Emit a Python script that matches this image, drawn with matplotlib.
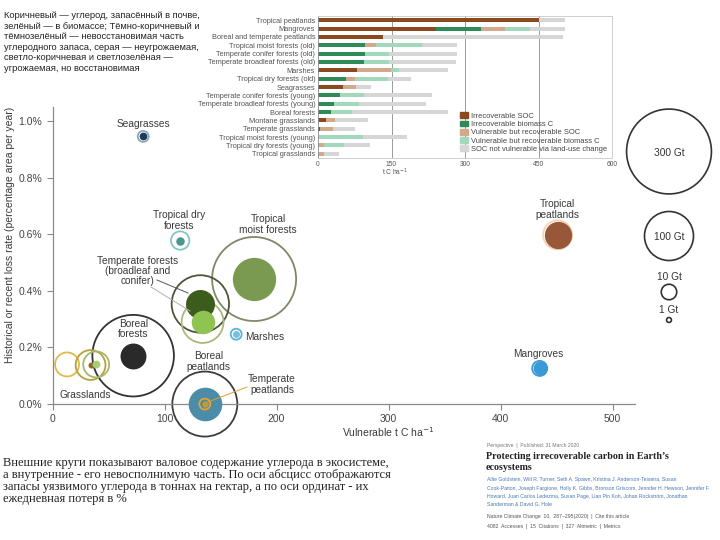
import matplotlib
matplotlib.use('Agg')
import matplotlib.pyplot as plt
import numpy as np
from matplotlib.patches import Circle, Patch

plt.rcParams['font.family'] = ['Liberation Sans', 'DejaVu Sans']

# ---------------- data: main bubble chart ----------------
eco_names = ['Seagrasses', 'Tropical dry forests', 'Tropical moist forests',
             'Temperate conifer forests', 'Temperate broadleaf forests',
             'Boreal forests', 'Tropical grasslands', 'Temperate grasslands',
             'Montane grasslands', 'Marshes', 'Boreal peatlands',
             'Temperate peatlands', 'Tropical peatlands', 'Mangroves']
eco_vuln = [81, 114, 180, 132, 134, 72, 13, 34, 39, 164, 136, 136, 451, 435]
eco_loss = [0.946, 0.578, 0.442, 0.354, 0.290, 0.171, 0.140, 0.138, 0.140,
            0.247, 0.0, 0.0, 0.598, 0.126]
eco_total_gt = [5, 14, 294, 137, 73, 277, 24, 37, 28, 5, 176, 5, 35, 9.4]
eco_irrec_gt = [2.5, 3, 78, 35, 23, 28, 0, 1.5, 2.5, 2, 47, 1.5, 31, 8]

# ---------------- data: inset stacked bars ----------------
inset_cats = ['Tropical peatlands', 'Mangroves', 'Boreal and temperate peatlands',
              'Tropical moist forests (old)', 'Temperate conifer forests (old)',
              'Temperate broadleaf forests (old)', 'Marshes',
              'Tropical dry forests (old)', 'Seagrasses',
              'Temperate conifer forests (young)', 'Temperate broadleaf forests (young)',
              'Boreal forests', 'Montane grasslands', 'Temperate grasslands',
              'Tropical moist forests (young)', 'Tropical dry forests (young)',
              'Tropical grasslands']
irrec_soc = [450, 241, 133, 0, 0, 0, 80, 0, 50, 0, 0, 0, 16, 5, 0, 0, 0]
irrec_bio = [0, 92, 0, 95, 95, 93, 0, 58, 0, 44, 33, 27, 0, 0, 0, 0, 0]
vuln_soc = [0, 49, 0, 23, 0, 0, 68, 17, 28, 0, 0, 0, 19, 26, 0, 12, 12]
vuln_bio = [0, 51, 0, 95, 50, 52, 18, 67, 0, 50, 51, 43, 0, 0, 92, 41, 0]
not_vuln = [54, 71, 367, 70, 138, 136, 99, 48, 31, 138, 136, 195, 67, 45, 90, 54, 30]
inset_series = ['Irrecoverable SOC', 'Irrecoverable biomass C',
                'Vulnerable but recoverable SOC', 'Vulnerable but recoverable biomass C',
                'SOC not vulnerable via land-use change']
inset_ticks = [0, 150, 300, 450, 600]

main_xticks = [0, 100, 200, 300, 400, 500]
main_yticks = [0.0, 0.2, 0.4, 0.6, 0.8, 1.0]

legend_gt = [300, 100, 10, 1]
legend_labels = ['300 Gt', '100 Gt', '10 Gt', '1 Gt']

top_text = ['Коричневый — углерод, запасённый в почве,',
            'зелёный — в биомассе; Тёмно-коричневый и',
            'тёмнозелёный — невосстановимая часть',
            'углеродного запаса, серая — неугрожаемая,',
            'светло-коричневая и светлозелёная —',
            'угрожаемая, но восстановимая']
bottom_text = ['Внешние круги показывают валовое содержание углерода в экосистеме,',
               'а внутренние - его невосполнимую часть. По оси абсцисс отображаются',
               'запасы уязвимого углерода в тоннах на гектар, а по оси ординат - их',
               'ежедневная потеря в %']
article_meta = 'Perspective  |  Published: 31 March 2020'
article_title = ['Protecting irrecoverable carbon in Earth\u2019s', 'ecosystems']
article_authors = ['Allie Goldstein, Will R. Turner, Seth A. Spawn, Kristina J. Anderson-Teixeira, Susan',
                   'Cook-Patton, Joseph Fargione, Holly K. Gibbs, Bronson Griscom, Jennifer H. Hewson, Jennifer F.',
                   'Howard, Juan Carlos Ledezma, Susan Page, Lian Pin Koh, Johan Rockström, Jonathan',
                   'Sanderman & David G. Hole']
article_journal = 'Nature Climate Change  10,  287\u2013295(2020)  |  Cite this article'
article_metrics = '4082  Accesses  |  15  Citations  |  327  Altmetric  |  Metrics'

# ---------------- styles ----------------
W, H, DPI = 720, 540, 100
PX_PER_SQRT_GT = 2.45
eco_edge = ['#8aa6bf', '#86c4c4', '#7f8866', '#4f5538', '#a9b97c', '#333333',
            '#e2b94c', '#b4a23e', '#a6b86a', '#5ab3da', '#3d3d3d', '#e6a232',
            '#eed5b8', '#3a9ad6']
eco_fill = ['#1e3a56', '#4d968e', '#7a9a52', '#3b5c1c', '#8fc352', '#2a2a2a',
            'none', '#8a6a30', '#a6cf74', '#78bede', '#4b8ca8', '#c59a34',
            '#99573a', '#3a9ad6']
seg_colors = ['#8b4a1e', '#2e8b57', '#d3a98c', '#a2d9bd', '#d6d6d6']


def px_rect(l, t, r, b):
    return [l / W, 1 - b / H, (r - l) / W, (b - t) / H]


def msize(gt):
    r = PX_PER_SQRT_GT * np.sqrt(gt)
    return (2 * r * 72 / DPI) ** 2


fig = plt.figure(figsize=(W / DPI, H / DPI), dpi=DPI)

# ---------------- main axes ----------------
ax = fig.add_axes(px_rect(52.5, 107, 52.5 + 1.12 * 520, 438))
ax.set_xlim(0, 520)
ax.set_ylim(-0.12, 1.05)
for s in ['top', 'right']:
    ax.spines[s].set_visible(False)
ax.spines['bottom'].set_position(('data', 0))
ax.spines['left'].set_bounds(0, 1.05)
for s in ['bottom', 'left']:
    ax.spines[s].set_color('#8a8a8a')
    ax.spines[s].set_linewidth(0.9)
ax.set_xticks(main_xticks)
ax.set_xticklabels([str(v) for v in main_xticks])
ax.set_yticks(main_yticks)
ax.set_yticklabels(['%.1f%%' % v for v in main_yticks])
ax.tick_params(labelsize=7.5, labelcolor='#444444', color='#8a8a8a', length=4, width=0.8)
ax.set_facecolor('none')

# outer circles (total carbon)
for i in range(len(eco_names)):
    ax.scatter(eco_vuln[i], eco_loss[i], s=msize(eco_total_gt[i]), facecolors='none',
               edgecolors=eco_edge[i], linewidths=1.3, zorder=2, clip_on=False)
# inner circles (irrecoverable carbon)
for i in range(len(eco_names)):
    if eco_irrec_gt[i] > 0 and eco_fill[i] != 'none':
        ax.scatter(eco_vuln[i], eco_loss[i], s=msize(eco_irrec_gt[i]), color=eco_fill[i],
                   linewidths=0, zorder=3 + i * 0.01, clip_on=False)
# temperate peatlands ring on top of boreal peatlands
ax.scatter(eco_vuln[11], eco_loss[11], s=msize(eco_total_gt[11]), facecolors='none',
           edgecolors=eco_edge[11], linewidths=1.3, zorder=4, clip_on=False)
ax.scatter(eco_vuln[11], eco_loss[11], s=msize(eco_irrec_gt[11]), color=eco_fill[11],
           linewidths=0, zorder=4.1, clip_on=False)

# ---------------- overlay (pixel coordinates) ----------------
ov = fig.add_axes([0, 0, 1, 1])
ov.set_xlim(0, W)
ov.set_ylim(H, 0)
ov.axis('off')

lab = dict(fontsize=7.3, color='#3a3a3a', ha='center', va='center', linespacing=1.05)
ov.text(143.3, 124, 'Seagrasses', **lab)
ov.text(179, 220.5, 'Tropical dry\nforests', **lab)
ov.text(268.3, 224.5, 'Tropical\nmoist forests', **lab)
ov.text(137.5, 271, 'Temperate forests\n(broadleaf and\nconifer)', **lab)
ov.text(133.3, 329, 'Boreal\nforests', **lab)
ov.text(85, 395, 'Grasslands', **lab)
ov.text(245, 337, 'Marshes', fontsize=7.3, color='#3a3a3a', ha='left', va='center')
ov.text(208.3, 361.5, 'Boreal\npeatlands', **lab)
ov.text(272, 384.5, 'Temperate\npeatlands', **lab)
ov.text(557.3, 209.5, 'Tropical\npeatlands', **lab)
ov.text(538.3, 354, 'Mangroves', **lab)
ov.plot([157, 188], [280, 293], color='#555555', lw=0.7)
ov.plot([151, 190], [287, 311], color='#b0b0b0', lw=0.7)
ov.plot([247, 208], [387, 402], color='#e0a030', lw=0.7)

ov.text(10, 235, 'Historical or recent loss rate (percentage area per year)',
        rotation=90, fontsize=7.5, color='#3a3a3a', ha='center', va='center')
ov.text(388, 432, 'Vulnerable t C ha$^{-1}$', fontsize=7.5, color='#3a3a3a',
        ha='center', va='center')

# bubble size legend
leg_centers = [(669, 151.5), (669, 236), (669, 292), (669, 320)]
leg_text_pos = [(669, 153), (669, 237.5), (669, 277), (669, 310)]
for g, c, lbl, tp in zip(legend_gt, leg_centers, legend_labels, leg_text_pos):
    ov.add_patch(Circle(c, PX_PER_SQRT_GT * np.sqrt(g), fill=False, ec='#333333', lw=1.2))
    ov.text(tp[0], tp[1], lbl, fontsize=7.3, color='#333333', ha='center', va='center')

# top-left text
for k, line in enumerate(top_text):
    ov.text(4, 16 + k * 10.45, line, fontsize=6.75, color='#222222', ha='left', va='center')
# bottom text
for k, line in enumerate(bottom_text):
    ov.text(3, 462.7 + k * 12.2, line, fontsize=9, family='Liberation Serif',
            color='#222222', ha='left', va='center')
# article snippet
ov.text(487, 446, article_meta, fontsize=3.6, color='#777777', ha='left', va='center')
ov.text(486, 456.5, article_title[0], fontsize=7.2, family='Liberation Serif',
        weight='bold', color='#222222', ha='left', va='center')
ov.text(486, 467, article_title[1], fontsize=7.2, family='Liberation Serif',
        weight='bold', color='#222222', ha='left', va='center')
for k, line in enumerate(article_authors):
    ov.text(487, 480 + k * 8.3, line, fontsize=3.7, color='#4a78b0', ha='left', va='center')
ov.text(487, 516.7, article_journal, fontsize=3.7, color='#555555', ha='left', va='center')
ov.text(487, 526.7, article_metrics, fontsize=3.7, color='#555555', ha='left', va='center')

# ---------------- inset stacked bars ----------------
axi = fig.add_axes(px_rect(318, 16, 612, 158))
axi.set_facecolor('white')
ypos = np.arange(len(inset_cats))
left = np.zeros(len(inset_cats))
for vals, col, name in zip([irrec_soc, irrec_bio, vuln_soc, vuln_bio, not_vuln],
                           seg_colors, inset_series):
    axi.barh(ypos, vals, left=left, height=0.48, color=col, label=name, zorder=2)
    left = left + np.array(vals)
axi.set_ylim(16.5, -0.5)
axi.set_xlim(0, 600)
for xv in inset_ticks[1:-1]:
    axi.axvline(xv, color='#9a9a9a', lw=0.7, zorder=1)
axi.set_yticks(ypos)
axi.set_yticklabels(inset_cats)
axi.set_xticks(inset_ticks)
axi.tick_params(axis='y', length=0, labelsize=5.3, labelcolor='#555555', pad=2)
axi.tick_params(axis='x', length=0, labelsize=4.8, labelcolor='#555555', pad=2)
for s in axi.spines.values():
    s.set_color('#c8c8c8')
    s.set_linewidth(0.6)
axi.spines['left'].set_color('#8a8a8a')
handles = [Patch(color=c, label=n) for c, n in zip(seg_colors, inset_series)]
axi.legend(handles=handles, loc='lower right', fontsize=5.4, frameon=False,
           handlelength=1.0, handleheight=0.8, labelspacing=0.1, borderaxespad=0.3,
           handletextpad=0.4, labelcolor='#444444')
fig.text(395 / W, 1 - 172 / H, 't C ha$^{-1}$', fontsize=4.8, color='#555555',
         ha='center', va='center')

fig.savefig('out.png', dpi=DPI)
